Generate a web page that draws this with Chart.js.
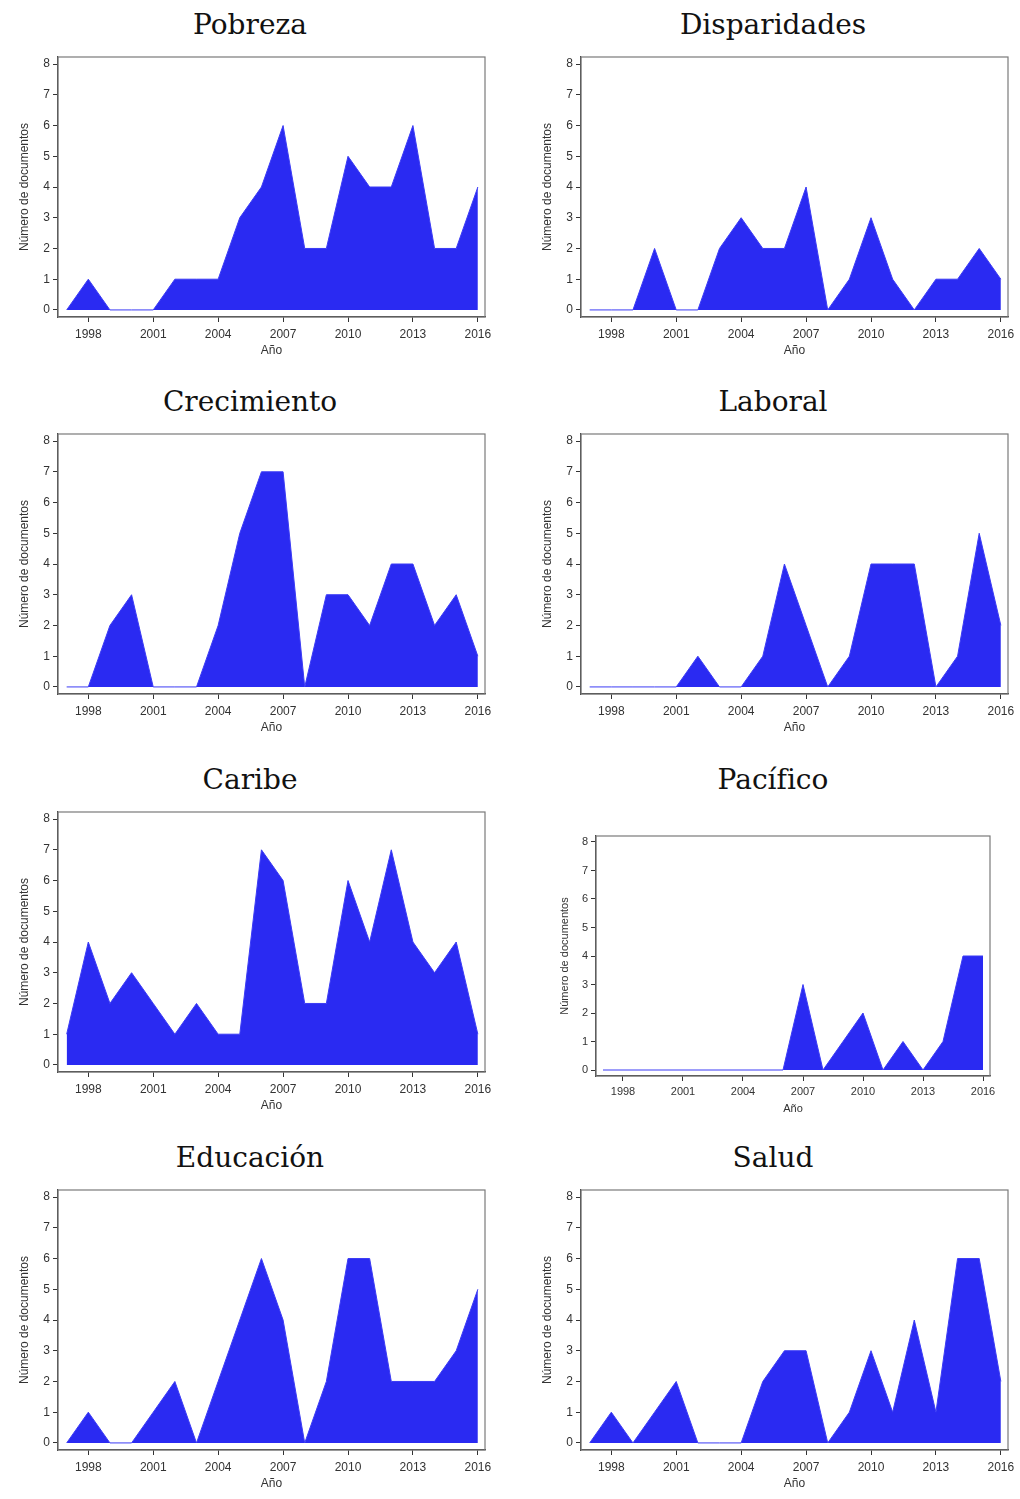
<!DOCTYPE html>
<html lang="es">
<head>
    <meta charset="UTF-8">
    <title>Número de documentos por año</title>
    <script src="https://cdn.jsdelivr.net/npm/chart.js"></script>
    <style>
        body {
            margin: 0;
            background: #ffffff;
            overflow: hidden;
            width: 1020px;
            height: 1499px;
            position: relative;
            font-family: "Liberation Sans", Arial, sans-serif;
        }
        .panel {
            position: absolute;
            width: 510px;
            height: 377px;
        }
        .panel h2 {
            position: absolute;
            top: 8px;
            left: 0;
            width: 500px;
            margin: 0;
            text-align: center;
            font-family: "DejaVu Serif", "Liberation Serif", serif;
            font-weight: normal;
            font-size: 28px;
            color: #111;
        }
        .panel canvas {
            position: absolute;
            top: 40px;
            left: 0;
        }
    </style>
</head>
<body>
    <div id="grid"></div>

    <script>
        // datos: documentos por año, 1997-2016
        const years = [1997, 1998, 1999, 2000, 2001, 2002, 2003, 2004, 2005, 2006,
                       2007, 2008, 2009, 2010, 2011, 2012, 2013, 2014, 2015, 2016];
        const xTicks = [1998, 2001, 2004, 2007, 2010, 2013, 2016];
        const yTicks = [0, 1, 2, 3, 4, 5, 6, 7, 8];

        const pobreza      = [0, 1, 0, 0, 0, 1, 1, 1, 3, 4, 6, 2, 2, 5, 4, 4, 6, 2, 2, 4];
        const disparidades = [0, 0, 0, 2, 0, 0, 2, 3, 2, 2, 4, 0, 1, 3, 1, 0, 1, 1, 2, 1];
        const crecimiento  = [0, 0, 2, 3, 0, 0, 0, 2, 5, 7, 7, 0, 3, 3, 2, 4, 4, 2, 3, 1];
        const laboral      = [0, 0, 0, 0, 0, 1, 0, 0, 1, 4, 2, 0, 1, 4, 4, 4, 0, 1, 5, 2];
        const caribe       = [1, 4, 2, 3, 2, 1, 2, 1, 1, 7, 6, 2, 2, 6, 4, 7, 4, 3, 4, 1];
        const pacifico     = [0, 0, 0, 0, 0, 0, 0, 0, 0, 0, 3, 0, 1, 2, 0, 1, 0, 1, 4, 4];
        const educacion    = [0, 1, 0, 0, 1, 2, 0, 2, 4, 6, 4, 0, 2, 6, 6, 2, 2, 2, 3, 5];
        const salud        = [0, 1, 0, 1, 2, 0, 0, 0, 2, 3, 3, 0, 1, 3, 1, 4, 1, 6, 6, 2];

        const panels = [
            { title: "Pobreza", values: pobreza, col: 0, row: 0 },
            { title: "Disparidades", values: disparidades, col: 1, row: 0 },
            { title: "Crecimiento", values: crecimiento, col: 0, row: 1 },
            { title: "Laboral", values: laboral, col: 1, row: 1 },
            { title: "Caribe", values: caribe, col: 0, row: 2 },
            { title: "Pacífico", values: pacifico, col: 1, row: 2, small: true },
            { title: "Educación", values: educacion, col: 0, row: 3 },
            { title: "Salud", values: salud, col: 1, row: 3 }
        ];

        const rowTop = [0, 377, 755, 1133];
        const fillBlue = "#2a2af2";

        // marco gris alrededor del área de trazado
        const frame = {
            id: "frame",
            afterDraw(chart) {
                const a = chart.chartArea;
                const ctx = chart.ctx;
                ctx.save();
                ctx.strokeStyle = "#7a7a7a";
                ctx.lineWidth = 1.2;
                ctx.strokeRect(a.left, a.top, a.right - a.left, a.bottom - a.top);
                ctx.restore();
            }
        };

        function makeChart(p) {
            const div = document.createElement("div");
            div.className = "panel";
            div.style.left = (p.col * 523) + "px";
            div.style.top = rowTop[p.row] + "px";
            const h = document.createElement("h2");
            h.textContent = p.title;
            div.appendChild(h);
            const cv = document.createElement("canvas");
            cv.width = 497;
            cv.height = 330;
            cv.style.width = "497px";
            cv.style.height = "330px";
            div.appendChild(cv);
            document.getElementById("grid").appendChild(div);

            // el panel del Pacífico es algo más pequeño
            const sm = p.small;
            const yW = sm ? 73 : 58;
            const xH = sm ? 49 : 53;
            const fs = sm ? 11 : 12;

            new Chart(cv.getContext("2d"), {
                type: "line",
                data: {
                    datasets: [{
                        data: years.map((y, i) => ({ x: y, y: p.values[i] })),
                        fill: "origin",
                        backgroundColor: fillBlue,
                        borderColor: "#3b3bf5",
                        borderWidth: 1,
                        pointRadius: 0,
                        tension: 0
                    }]
                },
                options: {
                    responsive: false,
                    animation: false,
                    layout: { padding: { top: sm ? 41 : 17, right: sm ? 30 : 12, left: 0, bottom: 0 } },
                    plugins: { legend: { display: false }, tooltip: { enabled: false } },
                    scales: {
                        x: {
                            type: "linear",
                            min: sm ? 1996.65 : 1996.6,
                            max: sm ? 2016.35 : 2016.33,
                            afterBuildTicks: s => { s.ticks = xTicks.map(v => ({ value: v })); },
                            afterFit: s => { s.height = xH; },
                            ticks: {
                                callback: v => String(v),
                                color: "#333",
                                font: { family: "Liberation Sans", size: fs },
                                padding: sm ? 4 : 5,
                                maxRotation: 0
                            },
                            grid: { drawOnChartArea: false, tickLength: 5, color: "#333" },
                            border: { color: "#333", width: 1.2 },
                            title: {
                                display: true,
                                text: "Año",
                                color: "#333",
                                font: { family: "Liberation Sans", size: fs },
                                padding: { top: 0, bottom: sm ? 9 : 12 }
                            }
                        },
                        y: {
                            min: sm ? -0.21 : -0.23,
                            max: sm ? 8.21 : 8.23,
                            afterBuildTicks: s => { s.ticks = yTicks.map(v => ({ value: v })); },
                            afterFit: s => { s.width = yW; },
                            ticks: {
                                color: "#333",
                                font: { family: "Liberation Sans", size: fs },
                                padding: 3
                            },
                            grid: { drawOnChartArea: false, tickLength: 5, color: "#333" },
                            border: { color: "#333", width: 1.2 },
                            title: {
                                display: true,
                                text: "Número de documentos",
                                color: "#333",
                                font: { family: "Liberation Sans", size: fs },
                                padding: { top: sm ? 35 : 17, bottom: 0 }
                            }
                        }
                    }
                },
                plugins: [frame]
            });
        }

        panels.forEach(makeChart);
    </script>
</body>
</html>
